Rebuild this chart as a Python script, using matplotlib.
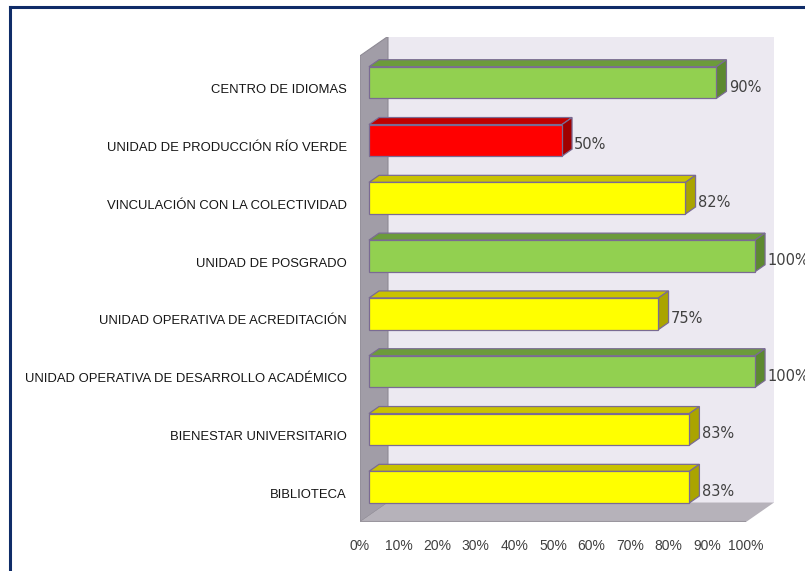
import matplotlib
matplotlib.use("Agg")
import matplotlib.pyplot as plt
from matplotlib.patches import Polygon, Rectangle
from matplotlib.lines import Line2D

# Cumplimiento por dependencia (porcentaje)
dependencias = [
    "CENTRO DE IDIOMAS",
    "UNIDAD DE PRODUCCIÓN RÍO VERDE",
    "VINCULACIÓN CON LA COLECTIVIDAD",
    "UNIDAD DE POSGRADO",
    "UNIDAD OPERATIVA DE ACREDITACIÓN",
    "UNIDAD OPERATIVA DE DESARROLLO ACADÉMICO",
    "BIENESTAR UNIVERSITARIO",
    "BIBLIOTECA",
]
cumplimiento = [90, 50, 82, 100, 75, 100, 83, 83]
ticks_pct = [0, 10, 20, 30, 40, 50, 60, 70, 80, 90, 100]

# semaforo: (frente, cara superior, cara lateral)
VERDE = ("#92d050", "#6c9b3b", "#5d8930")
AMARILLO = ("#ffff00", "#c9c200", "#aaa400")
ROJO = ("#ff0000", "#c00000", "#a00000")


def color_semaforo(v):
    if v >= 90:
        return VERDE
    if v >= 60:
        return AMARILLO
    return ROJO


# profundidad del efecto 3D en unidades de datos (x en %, y en categorias)
DX, DY = 7.25, -0.337
D0, DT = 0.32, 0.36          # posicion y grosor de las barras en la profundidad
ALTO = 0.547                 # alto de la cara frontal
PISO = 7.495                 # borde frontal del piso
TECHO = -0.57                # borde superior de la pared lateral
BORDE = "#7a6b93"

fig = plt.figure(figsize=(8.05, 5.71), dpi=100)
ax = fig.add_axes([360 / 805, 1 - 522 / 571, 414 / 805, 485.5 / 571])
ax.set_xlim(0, 100 + DX)
ax.set_ylim(PISO, PISO - 485.5 / 57.8)
for s in ax.spines.values():
    s.set_visible(False)
ax.patch.set_visible(False)

# paredes y piso
ax.add_patch(Rectangle((DX, TECHO + DY), 100, PISO - TECHO,
                       facecolor="#ece9f1", edgecolor="none", zorder=0))
ax.add_patch(Polygon([(0, TECHO), (DX, TECHO + DY), (DX, PISO + DY), (0, PISO)],
                     closed=True, facecolor="#a19da7", edgecolor="#8e8a94",
                     linewidth=0.8, zorder=1))
ax.add_patch(Polygon([(0, PISO), (DX, PISO + DY), (100 + DX, PISO + DY), (100, PISO)],
                     closed=True, facecolor="#b6b2ba", edgecolor="none", zorder=1))
ax.plot([0, 100], [PISO, PISO], color="#9a969e", linewidth=1.5, zorder=1,
        solid_capstyle="butt")

# barras 3D
for i, v in enumerate(cumplimiento):
    frente, arriba, lado = color_semaforo(v)
    x0 = D0 * DX
    yc = i + D0 * DY
    y_top = yc - ALTO / 2
    y_bot = yc + ALTO / 2
    tx, ty = DT * DX, DT * DY
    ax.add_patch(Polygon([(x0, y_top), (x0 + v, y_top), (x0 + v + tx, y_top + ty),
                          (x0 + tx, y_top + ty)], closed=True, facecolor=arriba,
                         edgecolor=BORDE, linewidth=0.9, zorder=3))
    ax.add_patch(Polygon([(x0 + v, y_top), (x0 + v, y_bot), (x0 + v + tx, y_bot + ty),
                          (x0 + v + tx, y_top + ty)], closed=True, facecolor=lado,
                         edgecolor=BORDE, linewidth=0.9, zorder=3))
    ax.add_patch(Rectangle((x0, y_top), v, ALTO, facecolor=frente,
                           edgecolor=BORDE, linewidth=0.9, zorder=4))
    ax.text(v + 5.5, i - 0.03, f"{v}%", ha="left", va="center",
            fontsize=10.5, color="#404040", family="DejaVu Sans",
            clip_on=False, zorder=5)

ax.set_yticks(range(len(dependencias)))
ax.set_yticklabels(dependencias, family=["Liberation Sans Narrow", "Liberation Sans"],
                   fontsize=9.4, color="#151515")
ax.set_xticks(ticks_pct)
ax.set_xticklabels([f"{t}%" for t in ticks_pct], family="Liberation Sans",
                   fontsize=10, color="#404040")
ax.tick_params(axis="y", length=0, pad=9.4)
ax.tick_params(axis="x", length=0, pad=12)

# marco azul del grafico
marco = "#0f2c68"
x_m, y_m = 9.5 / 805, 1 - 6.5 / 571
fig.add_artist(Line2D([x_m, x_m], [0, y_m], color=marco, linewidth=2.2,
                      transform=fig.transFigure))
fig.add_artist(Line2D([x_m, 1], [y_m, y_m], color=marco, linewidth=2.2,
                      transform=fig.transFigure))

fig.savefig("out.png", dpi=100)
